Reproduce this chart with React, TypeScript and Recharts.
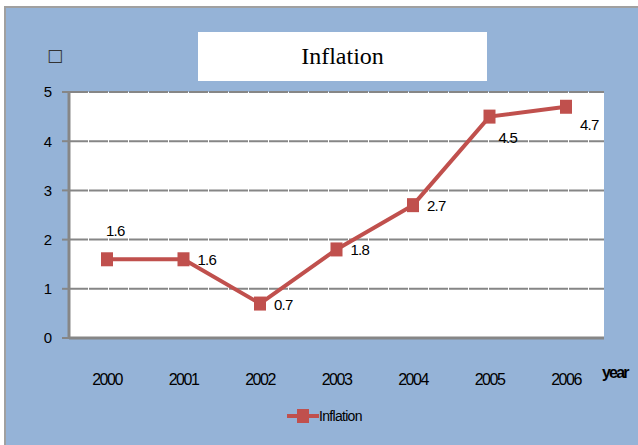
import React from 'react';
import { LineChart, Line, XAxis, YAxis, CartesianGrid } from 'recharts';

const years = ['2000', '2001', '2002', '2003', '2004', '2005', '2006'];
const inflation = [1.6, 1.6, 0.7, 1.8, 2.7, 4.5, 4.7];
const yTicks = [0, 1, 2, 3, 4, 5];

const data = years.map((year, i) => ({ year, inflation: inflation[i] }));

const RED = '#C0504D';
const GRAY = '#868686';
const SANS = '"Liberation Sans", Arial, sans-serif';

// where each value label sits relative to its point: [dx to text start, dy to baseline]
const labelShift: Record<number, [number, number]> = {
  0: [-1, -23],
  5: [9, 26],
  6: [14, 23],
};

function PointLabel(props: any) {
  const { x, y, value, index } = props;
  const [dx, dy] = labelShift[index] ?? [14, 6];
  return (
    <text x={x + dx} y={y + dy} fontSize={15} letterSpacing={-0.8} fill="#000" fontFamily={SANS}>
      {value}
    </text>
  );
}

function SquareDot(props: any) {
  const { cx, cy, index } = props;
  return <rect key={index} x={cx - 6} y={cy - 7} width={12} height={14} fill={RED} />;
}

function YearTick(props: any) {
  const { x, y, payload } = props;
  return (
    <text x={x} y={y + 47} textAnchor="middle" fontSize={16} letterSpacing={-1.5} fill="#000" fontFamily={SANS}>
      {payload.value}
    </text>
  );
}

export default function App() {
  return (
    <div style={{ position: 'absolute', left: 0, top: 0, width: 638, height: 445, background: '#fff', overflow: 'hidden' }}>
      <div
        style={{
          position: 'absolute',
          left: 4,
          top: 6,
          width: 640,
          height: 445,
          background: '#95B3D7',
          borderLeft: '2px solid #a0a0a0',
          borderTop: '2px solid #a0a0a0',
        }}
      />
      <div
        style={{
          position: 'absolute',
          left: 198,
          top: 32,
          width: 289,
          height: 49,
          background: '#fff',
          display: 'flex',
          alignItems: 'center',
          justifyContent: 'center',
          fontFamily: '"Liberation Serif", "Times New Roman", serif',
          fontSize: 24,
          color: '#000',
        }}
      >
        Inflation
      </div>
      <span
        style={{ position: 'absolute', left: 47, top: 45, fontFamily: '"DejaVu Sans", sans-serif', fontSize: 17, color: '#333' }}
      >
        □
      </span>
      <div style={{ position: 'absolute', left: 0, top: 0 }}>
        <LineChart width={638} height={445} data={data} margin={{ top: 92, right: 34, bottom: 0, left: 0 }}>
          <CartesianGrid vertical={false} fill="#fff" stroke={GRAY} strokeWidth={2} strokeDasharray="19 1" />
          <XAxis
            dataKey="year"
            height={107}
            interval={0}
            padding={{ left: 38, right: 38 }}
            axisLine={{ stroke: GRAY, strokeWidth: 3 }}
            tickLine={false}
            tickSize={0}
            tickMargin={0}
            tick={<YearTick />}
          />
          <YAxis
            width={69}
            domain={[0, 5]}
            ticks={yTicks}
            axisLine={{ stroke: GRAY, strokeWidth: 3 }}
            tickLine={{ stroke: GRAY, strokeWidth: 2 }}
            tickSize={7}
            tickMargin={10}
            tick={{ fontSize: 15, fill: '#000', fontFamily: SANS }}
          />
          <Line
            type="linear"
            dataKey="inflation"
            name="Inflation"
            stroke={RED}
            strokeWidth={4}
            dot={<SquareDot />}
            activeDot={false}
            label={<PointLabel />}
            isAnimationActive={false}
          />
        </LineChart>
      </div>
      <div
        style={{
          position: 'absolute',
          left: 602,
          top: 364,
          fontFamily: SANS,
          fontWeight: 'bold',
          fontSize: 16,
          letterSpacing: -1.8,
          color: '#000',
        }}
      >
        year
      </div>
      <div style={{ position: 'absolute', left: 287, top: 408, display: 'flex', alignItems: 'center' }}>
        <svg width={32} height={16}>
          <line x1={0} y1={8} x2={32} y2={8} stroke={RED} strokeWidth={4} />
          <rect x={10} y={1} width={12} height={14} fill={RED} />
        </svg>
        <span style={{ fontFamily: SANS, fontSize: 14, letterSpacing: -0.7, color: '#000', lineHeight: '16px' }}>Inflation</span>
      </div>
    </div>
  );
}
